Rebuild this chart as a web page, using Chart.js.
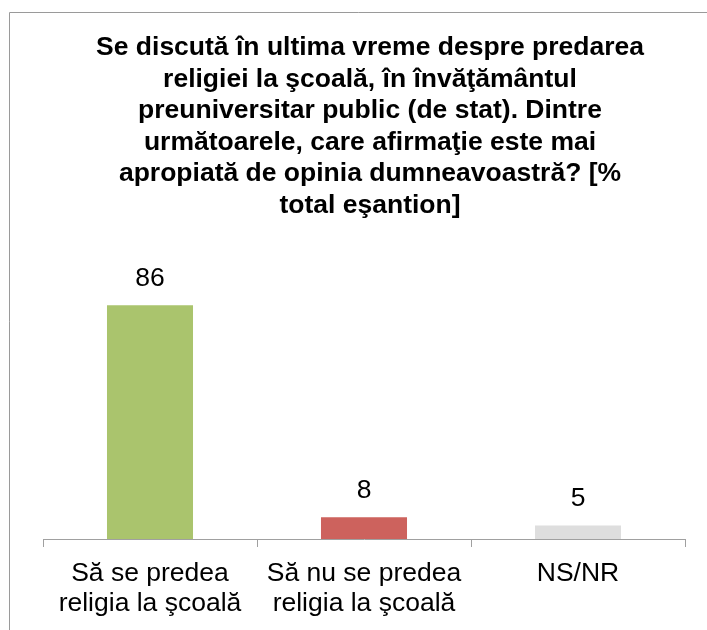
<!DOCTYPE html>
<html>
<head>
<meta charset="utf-8">
<script src="https://cdn.jsdelivr.net/npm/chart.js@4/dist/chart.umd.min.js"></script>
<style>
html,body{margin:0;padding:0;background:#fff;}
#wrap{position:relative;width:707px;height:630px;}
</style>
</head>
<body>
<div id="wrap"><canvas id="c" width="707" height="630"></canvas></div>
<script>
const titleLines = [
  "Se discută în ultima vreme despre predarea",
  "religiei la şcoală, în învăţământul",
  "preuniversitar public (de stat). Dintre",
  "următoarele, care afirmaţie este mai",
  "apropiată de opinia dumneavoastră? [%",
  "total eşantion]"
];
const categories = [
  ["Să se predea", "religia la şcoală"],
  ["Să nu se predea", "religia la şcoală"],
  ["NS/NR"]
];
const values = [86, 8, 5];
const barColors = ["#AAC46D", "#CD625D", "#DEDEDE"];

const FONT = "'Liberation Sans', Arial, sans-serif";

const framePlugin = {
  id: 'frame',
  beforeDraw(chart) {
    const ctx = chart.ctx;
    ctx.save();
    ctx.strokeStyle = '#9a9a9a';
    ctx.lineWidth = 1;
    ctx.beginPath();
    ctx.moveTo(9.5, chart.height);
    ctx.lineTo(9.5, 12.5);
    ctx.lineTo(chart.width, 12.5);
    ctx.stroke();
    ctx.restore();
  }
};

const labelPlugin = {
  id: 'valueLabels',
  afterDatasetsDraw(chart) {
    const ctx = chart.ctx;
    const meta = chart.getDatasetMeta(0);
    ctx.save();
    ctx.font = "26.5px " + FONT;
    ctx.fillStyle = '#000';
    ctx.textAlign = 'center';
    ctx.textBaseline = 'alphabetic';
    meta.data.forEach((bar, i) => {
      ctx.fillText(String(values[i]), bar.x, bar.y - 19);
    });
    ctx.restore();
  }
};

new Chart(document.getElementById('c'), {
  type: 'bar',
  data: {
    labels: categories,
    datasets: [{
      data: values,
      backgroundColor: barColors,
      borderWidth: 0,
      barPercentage: 0.402,
      categoryPercentage: 1
    }]
  },
  options: {
    responsive: false,
    animation: false,
    devicePixelRatio: 1,
    layout: { padding: { left: 43, right: 10, top: 32, bottom: 0 } },
    plugins: {
      legend: { display: false },
      tooltip: { enabled: false },
      title: {
        display: true,
        text: titleLines,
        color: '#000',
        font: { family: FONT, size: 26.5, weight: 'bold', lineHeight: 1.19 },
        padding: { top: 0, bottom: 46 }
      }
    },
    scales: {
      x: {
        grid: {
          display: true,
          drawOnChartArea: false,
          drawTicks: true,
          tickLength: 8,
          color: '#a0a0a0',
          offset: true
        },
        border: { display: true, color: '#a0a0a0', width: 1 },
        ticks: {
          color: '#000',
          padding: 12,
          maxRotation: 0,
          autoSkip: false,
          font: { family: FONT, size: 26.5, lineHeight: 1.13 }
        },
        afterFit(scale) { scale.height = 91; }
      },
      y: {
        position: 'right',
        min: 0,
        max: 100,
        display: true,
        grid: { display: false, drawTicks: false },
        border: { display: false },
        ticks: { display: false },
        afterFit(scale) { scale.width = 12; }
      }
    }
  },
  plugins: [framePlugin, labelPlugin]
});
</script>
</body>
</html>
